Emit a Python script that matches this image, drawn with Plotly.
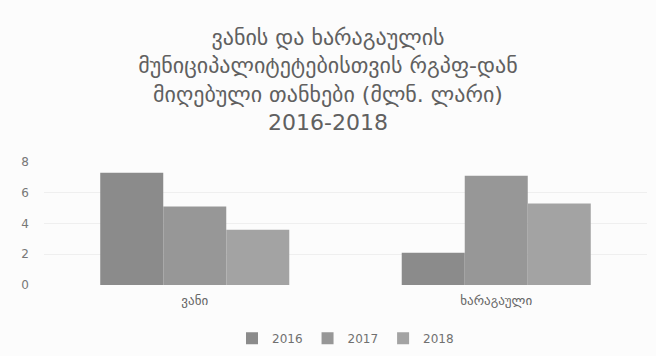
import plotly.graph_objects as go

categories = ["ვანი", "ხარაგაული"]
years = ["2016", "2017", "2018"]
values_2016 = [7.3, 2.1]
values_2017 = [5.1, 7.1]
values_2018 = [3.6, 5.3]
series = [values_2016, values_2017, values_2018]
colors = ["#8b8b8b", "#979797", "#a3a3a3"]

title_text = ("ვანის და ხარაგაულის<br>მუნიციპალიტეტებისთვის რგპფ-დან"
              "<br>მიღებული თანხები (მლნ. ლარი)<br>2016-2018")

fig = go.Figure()
for name, vals, col in zip(years, series, colors):
    fig.add_trace(go.Bar(x=categories, y=vals, name=name, marker_color=col,
                         marker_line_width=0))

fig.update_layout(
    width=656, height=356,
    margin=dict(l=44, r=9, t=162, b=71, autoexpand=False),
    paper_bgcolor="#fcfcfc", plot_bgcolor="#fcfcfc",
    font=dict(family="DejaVu Sans, sans-serif", color="#666666", size=12),
    title=dict(text=title_text, x=0.5, xanchor="center", y=0.875, yanchor="top",
               font=dict(size=22, color="#606060")),
    barmode="group", bargap=0.373, bargroupgap=0,
    showlegend=True,
    legend=dict(orientation="h", x=0.5, xanchor="center", yref="container",
                y=0.05, yanchor="middle",
                font=dict(size=12, color="#707070"), itemwidth=30),
    xaxis=dict(showgrid=False, showline=False, ticks="",
               tickfont=dict(size=13, color="#666666"), ticklabelstandoff=6),
    yaxis=dict(range=[0, 8], tickvals=[0, 2, 4, 6, 8], showgrid=True,
               gridcolor="#efefef", zeroline=False, showline=False,
               tickfont=dict(size=12, color="#777777"), ticklabelstandoff=14),
)

fig.write_html("out.html")
